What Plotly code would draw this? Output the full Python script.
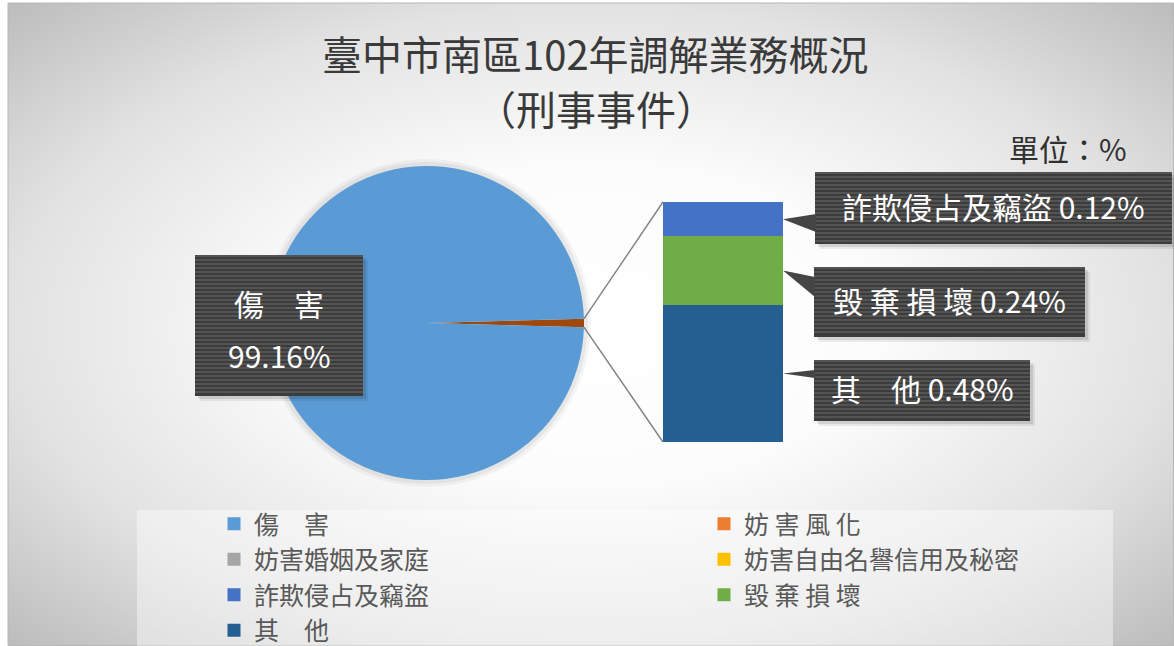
import base64
import math
import plotly.graph_objects as go

W, H = 1174, 646
FONT = "Noto Sans CJK TC"

# ---------------- data ----------------
categories = ["傷　害", "妨 害 風 化", "妨害婚姻及家庭", "妨害自由名譽信用及秘密",
              "詐欺侵占及竊盜", "毀 棄 損 壞", "其　他"]
values = [99.16, 0.0, 0.0, 0.0, 0.12, 0.24, 0.48]
colors = ["#5B9BD5", "#ED7D31", "#A5A5A5", "#FFC000", "#4472C4", "#70AD47", "#255E91"]
other_color = "#9E480E"
bar_categories = categories[1:]
bar_values = values[1:]
bar_colors = colors[1:]
title_line1 = "臺中市南區102年調解業務概況"
title_line2 = "（刑事事件）"
unit_text = "單位：%"

# ---------------- helpers (pixel -> paper) ----------------
def px(x):
    return x / W

def py(y):
    return 1 - y / H

total_bar = sum(bar_values)
pie_total = values[0] + total_bar

# layout geometry (pixels)
PIE_CX, PIE_CY, PIE_R = 427, 323, 157
BAR_L, BAR_R, BAR_T, BAR_B = 663, 783, 202, 442

fig = go.Figure()

# soft halo behind the pie
for grow, alpha in [(7, 0.04), (4, 0.05)]:
    fig.add_trace(go.Pie(
        values=[pie_total], labels=["halo"], sort=False, textinfo="none", hoverinfo="skip",
        marker=dict(colors=[f"rgba(0,0,0,{alpha})"], line=dict(width=0)), showlegend=False,
        domain=dict(x=[px(PIE_CX - PIE_R - grow), px(PIE_CX + PIE_R + grow)],
                    y=[py(PIE_CY + PIE_R + grow), py(PIE_CY - PIE_R - grow)]),
    ))

# pie: main category + combined "other" wedge centred at 3 o'clock
rotation = 90 - (total_bar / pie_total) * 360 / 2
fig.add_trace(go.Pie(
    labels=["其他合計", categories[0]],
    values=[total_bar, values[0]],
    sort=False, direction="clockwise", rotation=rotation,
    marker=dict(colors=[other_color, colors[0]], line=dict(width=0)),
    textinfo="none", hoverinfo="label+value", showlegend=False,
    domain=dict(x=[px(PIE_CX - PIE_R), px(PIE_CX + PIE_R)],
                y=[py(PIE_CY + PIE_R), py(PIE_CY - PIE_R)]),
))

# stacked bar (top-to-bottom follows category order)
for cat, val, col in reversed(list(zip(bar_categories, bar_values, bar_colors))):
    fig.add_trace(go.Bar(x=[0], y=[val], name=cat, marker=dict(color=col, line=dict(width=0)),
                         width=1, showlegend=False, hoverinfo="name+y"))

# legend entries (two columns -> two legends)
for i, (cat, col) in enumerate(zip(categories, colors)):
    fig.add_trace(go.Scatter(x=[None], y=[None], mode="markers", name=cat,
                             marker=dict(symbol="square", size=13, color=col),
                             legend="legend" if i % 2 == 0 else "legend2",
                             legendgroup=cat, showlegend=True))

shapes = []
annotations = []

def ann(text, x, y, size, color):
    annotations.append(dict(text=text, x=px(x), y=py(y), xref="paper", yref="paper",
                            xanchor="center", yanchor="middle", showarrow=False,
                            font=dict(family=FONT, size=size, color=color)))

# chart border
shapes.append(dict(type="rect", xref="paper", yref="paper", x0=px(8), x1=px(1173.5), y0=py(645.5), y1=py(3),
                   line=dict(color="#b8b8b8", width=1), fillcolor="rgba(0,0,0,0)", layer="below"))
# legend background
shapes.append(dict(type="rect", xref="paper", yref="paper", x0=px(137), x1=px(1113), y0=py(646), y1=py(510),
                   line=dict(width=0), fillcolor="rgba(255,255,255,0.42)", layer="below"))

# connector lines from pie wedge edges to bar corners
a_start = math.radians(rotation)
a_end = math.radians(rotation + total_bar / pie_total * 360)
p_top = (PIE_CX + PIE_R * math.sin(a_start), PIE_CY - PIE_R * math.cos(a_start))
p_bot = (PIE_CX + PIE_R * math.sin(a_end), PIE_CY - PIE_R * math.cos(a_end))
for (sx, sy), (ex, ey) in [(p_top, (BAR_L, BAR_T)), (p_bot, (BAR_L, BAR_B))]:
    shapes.append(dict(type="line", xref="paper", yref="paper", x0=px(sx), y0=py(sy), x1=px(ex), y1=py(ey),
                       line=dict(color="#808080", width=1.4), layer="above"))

ydom = (py(BAR_B), py(BAR_T))
def bar_y_to_paper(v):
    return ydom[0] + v / total_bar * (ydom[1] - ydom[0])


def dark_box(x0, y0, x1, y1):
    # soft shadow
    shapes.append(dict(type="rect", xref="paper", yref="paper", x0=px(x0 + 5), x1=px(x1 + 5),
                       y0=py(y1 + 5), y1=py(y0 + 5), line=dict(width=0),
                       fillcolor="rgba(0,0,0,0.07)", layer="above"))
    shapes.append(dict(type="rect", xref="paper", yref="paper", x0=px(x0 + 3), x1=px(x1 + 3),
                       y0=py(y1 + 3), y1=py(y0 + 3), line=dict(width=0),
                       fillcolor="rgba(0,0,0,0.10)", layer="above"))
    shapes.append(dict(type="rect", xref="paper", yref="paper", x0=px(x0), x1=px(x1),
                       y0=py(y1), y1=py(y0), line=dict(width=0), fillcolor="#3c3c3c", layer="above"))
    yy = y0 + 1
    while yy < y1 - 1:
        shapes.append(dict(type="line", xref="paper", yref="paper", x0=px(x0), x1=px(x1),
                           y0=py(yy), y1=py(yy), line=dict(color="#545454", width=2), layer="above"))
        yy += 4


# pie label box
dark_box(195, 255, 363, 396)
ann(categories[0], 279, 303, 30, "white")
ann(f"{values[0]:.2f}%", 279, 355, 30, "white")

# bar callouts
label_boxes = {  # box pixel geometry and pointer base (y0, y1) on box left edge
    "詐欺侵占及竊盜": ((815, 172, 1172, 244), (214, 232)),
    "毀 棄 損 壞": ((814, 267, 1085, 337), (277, 297)),
    "其　他": ((814, 360, 1030, 421), (370, 378)),
}
cum = 0.0
mids = {}
for cat, val in reversed(list(zip(bar_categories, bar_values))):
    mids[cat] = cum + val / 2
    cum += val
for cat, val in zip(bar_categories, bar_values):
    if val <= 0 or cat not in label_boxes:
        continue
    (bx0, by0, bx1, by1), (b0, b1) = label_boxes[cat]
    tip_x = px(BAR_R)
    tip_y = bar_y_to_paper(mids[cat])
    dark_box(bx0, by0, bx1, by1)
    path = f"M {tip_x},{tip_y} L {px(bx0 + 1)},{py(b0)} L {px(bx0 + 1)},{py(b1)} Z"
    shapes.append(dict(type="path", xref="paper", yref="paper", path=path,
                       fillcolor="#454545", line=dict(width=0), layer="above"))
    ann(f"{cat} {val:.2f}%", (bx0 + bx1) / 2, (by0 + by1) / 2 - 2, 30, "white")

# titles and unit
ann(title_line1, 596, 53, 40, "#3a3a3a")
ann(title_line2, 596, 108, 40, "#3a3a3a")
ann(unit_text, 1068, 148, 30, "#303030")

# background gradient image
svg = ('<svg xmlns="http://www.w3.org/2000/svg" width="1166" height="643" viewBox="0 0 1166 643" '
       'preserveAspectRatio="none"><defs><radialGradient id="g" cx="0.5" cy="0.5" r="0.7071">'
       '<stop offset="0" stop-color="#ffffff"/><stop offset="0.35" stop-color="#fcfcfc"/>'
       '<stop offset="0.7" stop-color="#e2e2e2"/><stop offset="1" stop-color="#bcbcbc"/>'
       '</radialGradient></defs><rect width="1166" height="643" fill="url(#g)"/></svg>')
src = "data:image/svg+xml;base64," + base64.b64encode(svg.encode()).decode()

legend_common = dict(xanchor="left", yanchor="top", bgcolor="rgba(0,0,0,0)", borderwidth=0,
                     font=dict(family=FONT, size=25, color="#595959"), orientation="v",
                     tracegroupgap=0, itemclick=False, itemdoubleclick=False)

fig.update_layout(
    width=W, height=H, autosize=False,
    margin=dict(l=0, r=0, t=0, b=0, pad=0, autoexpand=False),
    paper_bgcolor="white", plot_bgcolor="rgba(0,0,0,0)",
    barmode="stack", bargap=0,
    xaxis=dict(domain=[px(BAR_L), px(BAR_R)], range=[-0.5, 0.5], visible=False, fixedrange=True),
    yaxis=dict(domain=[py(BAR_B), py(BAR_T)], range=[0, total_bar], visible=False, fixedrange=True),
    legend=dict(x=px(214), y=py(501), **legend_common),
    legend2=dict(x=px(704), y=py(501), **legend_common),
    shapes=shapes, annotations=annotations,
    images=[dict(source=src, xref="paper", yref="paper", x=px(8), y=py(3), sizex=px(1166), sizey=643 / H,
                 xanchor="left", yanchor="top", sizing="stretch", layer="below")],
)

fig.write_html("out.html",
               config={"responsive": False, "displayModeBar": False},
               default_width=f"{W}px", default_height=f"{H}px",
               post_script="document.body.style.margin='0';document.body.style.overflow='hidden';")
